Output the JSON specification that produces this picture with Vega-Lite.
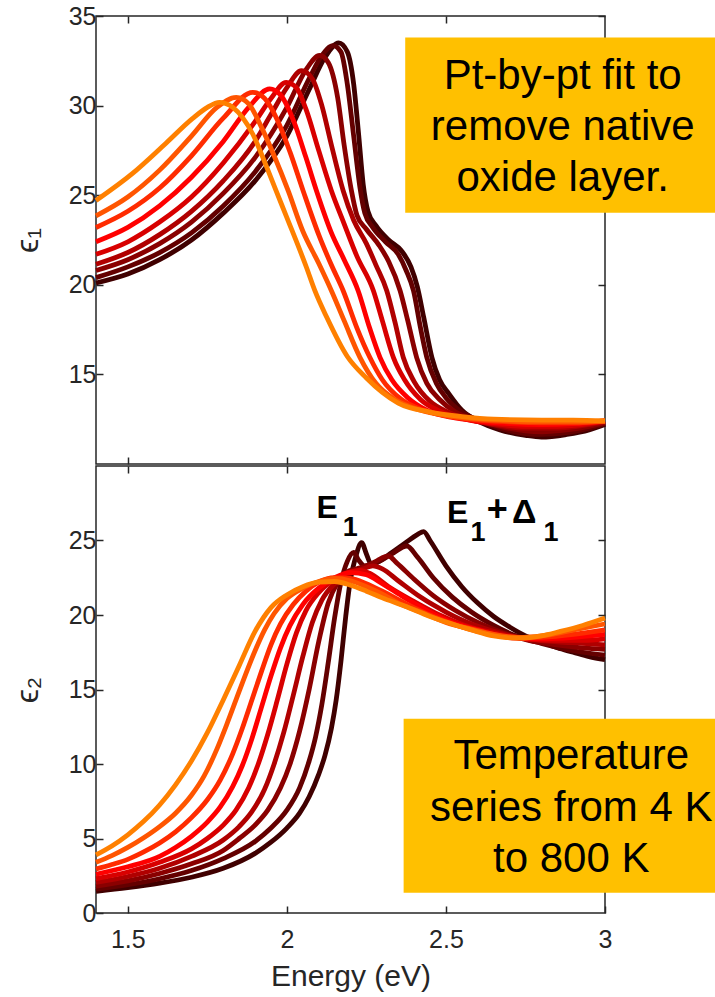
{
  "$schema": "https://vega.github.io/schema/vega-lite/v6.json",
  "background": "white",
  "padding": {"left": 10, "top": 3, "right": 0, "bottom": 0},
  "spacing": -6,
  "config": {
    "font": "Liberation Sans",
    "view": {"stroke": "#262626", "strokeWidth": 1.5},
    "axis": {"domain": false, "grid": false, "tickColor": "#262626", "tickWidth": 1.5, "tickSize": -7, "labelColor": "#262626", "labelFont": "Liberation Sans", "labelFontSize": 25, "titleColor": "#262626", "titleFont": "Liberation Sans", "titleFontWeight": "normal", "labelFlush": false, "labelOverlap": false}
  },
  "datasets": {
    "eps1": [
      {"curve":1,"E":1.4,"eps":20.1},{"curve":1,"E":1.5,"eps":20.6},{"curve":1,"E":1.6,"eps":21.4},{"curve":1,"E":1.7,"eps":22.5},{"curve":1,"E":1.8,"eps":24.0},{"curve":1,"E":1.9,"eps":25.8},{"curve":1,"E":2.0,"eps":28.3},{"curve":1,"E":2.07,"eps":30.9},{"curve":1,"E":2.12,"eps":32.7},{"curve":1,"E":2.163,"eps":33.5},{"curve":1,"E":2.19,"eps":33.0},{"curve":1,"E":2.21,"eps":31.2},{"curve":1,"E":2.225,"eps":28.5},{"curve":1,"E":2.24,"eps":25.6},{"curve":1,"E":2.255,"eps":24.1},{"curve":1,"E":2.28,"eps":23.3},{"curve":1,"E":2.32,"eps":22.5},{"curve":1,"E":2.36,"eps":21.9},{"curve":1,"E":2.39,"eps":21.0},{"curve":1,"E":2.41,"eps":19.9},{"curve":1,"E":2.43,"eps":18.2},{"curve":1,"E":2.456,"eps":15.94},{"curve":1,"E":2.48,"eps":14.7},{"curve":1,"E":2.51,"eps":13.9},{"curve":1,"E":2.55,"eps":13.0},{"curve":1,"E":2.6,"eps":12.4},{"curve":1,"E":2.67,"eps":11.9},{"curve":1,"E":2.75,"eps":11.6},{"curve":1,"E":2.8,"eps":11.5},{"curve":1,"E":2.88,"eps":11.65},{"curve":1,"E":2.95,"eps":11.9},{"curve":1,"E":3.0,"eps":12.2},
      {"curve":2,"E":1.4,"eps":20.4},{"curve":2,"E":1.5,"eps":21.0},{"curve":2,"E":1.6,"eps":21.8},{"curve":2,"E":1.7,"eps":22.9},{"curve":2,"E":1.8,"eps":24.4},{"curve":2,"E":1.9,"eps":26.3},{"curve":2,"E":2.0,"eps":28.9},{"curve":2,"E":2.07,"eps":31.5},{"curve":2,"E":2.11,"eps":32.8},{"curve":2,"E":2.145,"eps":33.35},{"curve":2,"E":2.17,"eps":33.0},{"curve":2,"E":2.19,"eps":31.2},{"curve":2,"E":2.21,"eps":28.3},{"curve":2,"E":2.23,"eps":25.4},{"curve":2,"E":2.245,"eps":24.0},{"curve":2,"E":2.27,"eps":23.2},{"curve":2,"E":2.31,"eps":22.4},{"curve":2,"E":2.35,"eps":21.7},{"curve":2,"E":2.375,"eps":20.8},{"curve":2,"E":2.398,"eps":19.67},{"curve":2,"E":2.42,"eps":17.6},{"curve":2,"E":2.44,"eps":15.94},{"curve":2,"E":2.47,"eps":14.5},{"curve":2,"E":2.5,"eps":13.7},{"curve":2,"E":2.55,"eps":12.9},{"curve":2,"E":2.6,"eps":12.45},{"curve":2,"E":2.67,"eps":12.0},{"curve":2,"E":2.75,"eps":11.7},{"curve":2,"E":2.8,"eps":11.65},{"curve":2,"E":2.88,"eps":11.75},{"curve":2,"E":2.95,"eps":12.0},{"curve":2,"E":3.0,"eps":12.25},
      {"curve":3,"E":1.4,"eps":20.8},{"curve":3,"E":1.5,"eps":21.4},{"curve":3,"E":1.6,"eps":22.3},{"curve":3,"E":1.7,"eps":23.5},{"curve":3,"E":1.8,"eps":25.1},{"curve":3,"E":1.9,"eps":27.1},{"curve":3,"E":2.0,"eps":29.9},{"curve":3,"E":2.06,"eps":32.0},{"curve":3,"E":2.103,"eps":32.8},{"curve":3,"E":2.13,"eps":32.4},{"curve":3,"E":2.16,"eps":30.4},{"curve":3,"E":2.18,"eps":27.8},{"curve":3,"E":2.203,"eps":25.25},{"curve":3,"E":2.22,"eps":23.9},{"curve":3,"E":2.25,"eps":23.1},{"curve":3,"E":2.29,"eps":22.2},{"curve":3,"E":2.32,"eps":21.3},{"curve":3,"E":2.356,"eps":19.67},{"curve":3,"E":2.38,"eps":18.0},{"curve":3,"E":2.408,"eps":15.94},{"curve":3,"E":2.44,"eps":14.5},{"curve":3,"E":2.48,"eps":13.6},{"curve":3,"E":2.53,"eps":12.9},{"curve":3,"E":2.6,"eps":12.45},{"curve":3,"E":2.67,"eps":12.1},{"curve":3,"E":2.75,"eps":11.85},{"curve":3,"E":2.8,"eps":11.8},{"curve":3,"E":2.88,"eps":11.9},{"curve":3,"E":2.95,"eps":12.1},{"curve":3,"E":3.0,"eps":12.3},
      {"curve":4,"E":1.4,"eps":21.15},{"curve":4,"E":1.5,"eps":21.8},{"curve":4,"E":1.6,"eps":22.8},{"curve":4,"E":1.7,"eps":24.1},{"curve":4,"E":1.8,"eps":25.8},{"curve":4,"E":1.9,"eps":28.0},{"curve":4,"E":1.95,"eps":29.5},{"curve":4,"E":2.0,"eps":31.0},{"curve":4,"E":2.046,"eps":31.95},{"curve":4,"E":2.08,"eps":31.5},{"curve":4,"E":2.11,"eps":30.0},{"curve":4,"E":2.14,"eps":27.8},{"curve":4,"E":2.177,"eps":25.25},{"curve":4,"E":2.21,"eps":23.6},{"curve":4,"E":2.25,"eps":22.3},{"curve":4,"E":2.28,"eps":21.1},{"curve":4,"E":2.314,"eps":19.67},{"curve":4,"E":2.34,"eps":17.9},{"curve":4,"E":2.366,"eps":15.94},{"curve":4,"E":2.4,"eps":14.6},{"curve":4,"E":2.45,"eps":13.5},{"curve":4,"E":2.5,"eps":12.95},{"curve":4,"E":2.57,"eps":12.5},{"curve":4,"E":2.65,"eps":12.2},{"curve":4,"E":2.75,"eps":12.0},{"curve":4,"E":2.85,"eps":12.0},{"curve":4,"E":2.95,"eps":12.2},{"curve":4,"E":3.0,"eps":12.35},
      {"curve":5,"E":1.4,"eps":21.7},{"curve":5,"E":1.5,"eps":22.4},{"curve":5,"E":1.6,"eps":23.5},{"curve":5,"E":1.7,"eps":24.9},{"curve":5,"E":1.8,"eps":26.8},{"curve":5,"E":1.9,"eps":29.1},{"curve":5,"E":1.95,"eps":30.4},{"curve":5,"E":1.998,"eps":31.3},{"curve":5,"E":2.03,"eps":31.0},{"curve":5,"E":2.06,"eps":29.8},{"curve":5,"E":2.1,"eps":27.5},{"curve":5,"E":2.14,"eps":25.25},{"curve":5,"E":2.18,"eps":23.4},{"curve":5,"E":2.22,"eps":21.6},{"curve":5,"E":2.272,"eps":19.67},{"curve":5,"E":2.3,"eps":18.0},{"curve":5,"E":2.335,"eps":15.94},{"curve":5,"E":2.37,"eps":14.7},{"curve":5,"E":2.42,"eps":13.6},{"curve":5,"E":2.48,"eps":12.95},{"curve":5,"E":2.55,"eps":12.55},{"curve":5,"E":2.65,"eps":12.25},{"curve":5,"E":2.75,"eps":12.1},{"curve":5,"E":2.85,"eps":12.1},{"curve":5,"E":2.95,"eps":12.25},{"curve":5,"E":3.0,"eps":12.4},
      {"curve":6,"E":1.4,"eps":22.4},{"curve":6,"E":1.5,"eps":23.2},{"curve":6,"E":1.6,"eps":24.4},{"curve":6,"E":1.7,"eps":26.0},{"curve":6,"E":1.8,"eps":28.0},{"curve":6,"E":1.88,"eps":29.9},{"curve":6,"E":1.946,"eps":30.93},{"curve":6,"E":1.98,"eps":30.6},{"curve":6,"E":2.02,"eps":29.2},{"curve":6,"E":2.06,"eps":27.1},{"curve":6,"E":2.093,"eps":25.25},{"curve":6,"E":2.14,"eps":22.9},{"curve":6,"E":2.18,"eps":21.4},{"curve":6,"E":2.224,"eps":19.67},{"curve":6,"E":2.26,"eps":17.6},{"curve":6,"E":2.293,"eps":15.94},{"curve":6,"E":2.33,"eps":14.7},{"curve":6,"E":2.38,"eps":13.7},{"curve":6,"E":2.44,"eps":13.0},{"curve":6,"E":2.52,"eps":12.6},{"curve":6,"E":2.6,"eps":12.4},{"curve":6,"E":2.7,"eps":12.25},{"curve":6,"E":2.8,"eps":12.2},{"curve":6,"E":2.9,"eps":12.25},{"curve":6,"E":3.0,"eps":12.4},
      {"curve":7,"E":1.4,"eps":23.2},{"curve":7,"E":1.5,"eps":24.1},{"curve":7,"E":1.6,"eps":25.4},{"curve":7,"E":1.7,"eps":27.2},{"curve":7,"E":1.8,"eps":29.3},{"curve":7,"E":1.893,"eps":30.74},{"curve":7,"E":1.93,"eps":30.4},{"curve":7,"E":1.97,"eps":29.2},{"curve":7,"E":2.01,"eps":27.4},{"curve":7,"E":2.051,"eps":25.25},{"curve":7,"E":2.1,"eps":22.8},{"curve":7,"E":2.14,"eps":21.1},{"curve":7,"E":2.177,"eps":19.67},{"curve":7,"E":2.22,"eps":17.6},{"curve":7,"E":2.261,"eps":15.94},{"curve":7,"E":2.3,"eps":14.7},{"curve":7,"E":2.36,"eps":13.6},{"curve":7,"E":2.43,"eps":13.0},{"curve":7,"E":2.5,"eps":12.7},{"curve":7,"E":2.6,"eps":12.45},{"curve":7,"E":2.7,"eps":12.35},{"curve":7,"E":2.8,"eps":12.3},{"curve":7,"E":2.9,"eps":12.3},{"curve":7,"E":3.0,"eps":12.4},
      {"curve":8,"E":1.4,"eps":23.85},{"curve":8,"E":1.5,"eps":24.9},{"curve":8,"E":1.6,"eps":26.4},{"curve":8,"E":1.7,"eps":28.3},{"curve":8,"E":1.78,"eps":29.9},{"curve":8,"E":1.841,"eps":30.46},{"curve":8,"E":1.88,"eps":30.1},{"curve":8,"E":1.92,"eps":28.8},{"curve":8,"E":1.96,"eps":27.2},{"curve":8,"E":2.004,"eps":25.25},{"curve":8,"E":2.05,"eps":23.0},{"curve":8,"E":2.1,"eps":21.2},{"curve":8,"E":2.14,"eps":19.67},{"curve":8,"E":2.18,"eps":18.0},{"curve":8,"E":2.23,"eps":15.94},{"curve":8,"E":2.28,"eps":14.5},{"curve":8,"E":2.34,"eps":13.6},{"curve":8,"E":2.42,"eps":13.0},{"curve":8,"E":2.5,"eps":12.7},{"curve":8,"E":2.6,"eps":12.5},{"curve":8,"E":2.7,"eps":12.4},{"curve":8,"E":2.8,"eps":12.35},{"curve":8,"E":2.9,"eps":12.35},{"curve":8,"E":3.0,"eps":12.4},
      {"curve":9,"E":1.4,"eps":24.7},{"curve":9,"E":1.514,"eps":26.2},{"curve":9,"E":1.62,"eps":27.9},{"curve":9,"E":1.703,"eps":29.27},{"curve":9,"E":1.75,"eps":29.9},{"curve":9,"E":1.788,"eps":30.18},{"curve":9,"E":1.83,"eps":29.9},{"curve":9,"E":1.893,"eps":28.4},{"curve":9,"E":1.937,"eps":26.55},{"curve":9,"E":1.966,"eps":25.25},{"curve":9,"E":2.0,"eps":23.75},{"curve":9,"E":2.062,"eps":20.95},{"curve":9,"E":2.088,"eps":19.67},{"curve":9,"E":2.125,"eps":18.2},{"curve":9,"E":2.19,"eps":16.0},{"curve":9,"E":2.25,"eps":14.8},{"curve":9,"E":2.3,"eps":14.0},{"curve":9,"E":2.35,"eps":13.4},{"curve":9,"E":2.45,"eps":12.9},{"curve":9,"E":2.55,"eps":12.65},{"curve":9,"E":2.65,"eps":12.5},{"curve":9,"E":2.8,"eps":12.45},{"curve":9,"E":2.9,"eps":12.45},{"curve":9,"E":3.0,"eps":12.4}
    ],
    "eps2": [
      {"curve":1,"E":1.4,"eps":1.45},{"curve":1,"E":1.5,"eps":1.7},{"curve":1,"E":1.6,"eps":2.0},{"curve":1,"E":1.7,"eps":2.4},{"curve":1,"E":1.8,"eps":3.0},{"curve":1,"E":1.9,"eps":4.0},{"curve":1,"E":1.95,"eps":4.75},{"curve":1,"E":2.0,"eps":5.7},{"curve":1,"E":2.04,"eps":6.7},{"curve":1,"E":2.07,"eps":7.8},{"curve":1,"E":2.1,"eps":9.3},{"curve":1,"E":2.12,"eps":10.6},{"curve":1,"E":2.14,"eps":12.4},{"curve":1,"E":2.155,"eps":14.3},{"curve":1,"E":2.17,"eps":16.9},{"curve":1,"E":2.185,"eps":19.9},{"curve":1,"E":2.2,"eps":22.4},{"curve":1,"E":2.215,"eps":23.8},{"curve":1,"E":2.235,"eps":24.85},{"curve":1,"E":2.25,"eps":24.1},{"curve":1,"E":2.265,"eps":23.4},{"curve":1,"E":2.29,"eps":23.6},{"curve":1,"E":2.33,"eps":24.2},{"curve":1,"E":2.37,"eps":24.8},{"curve":1,"E":2.41,"eps":25.4},{"curve":1,"E":2.43,"eps":25.6},{"curve":1,"E":2.45,"eps":25.0},{"curve":1,"E":2.5,"eps":23.3},{"curve":1,"E":2.55,"eps":21.9},{"curve":1,"E":2.6,"eps":20.8},{"curve":1,"E":2.65,"eps":19.9},{"curve":1,"E":2.7,"eps":19.2},{"curve":1,"E":2.75,"eps":18.6},{"curve":1,"E":2.8,"eps":18.2},{"curve":1,"E":2.85,"eps":17.8},{"curve":1,"E":2.9,"eps":17.5},{"curve":1,"E":2.95,"eps":17.2},{"curve":1,"E":3.0,"eps":17.0},
      {"curve":2,"E":1.4,"eps":1.6},{"curve":2,"E":1.5,"eps":1.9},{"curve":2,"E":1.6,"eps":2.3},{"curve":2,"E":1.7,"eps":2.85},{"curve":2,"E":1.8,"eps":3.65},{"curve":2,"E":1.9,"eps":4.8},{"curve":2,"E":1.95,"eps":5.7},{"curve":2,"E":2.0,"eps":6.9},{"curve":2,"E":2.04,"eps":8.4},{"curve":2,"E":2.07,"eps":10.2},{"curve":2,"E":2.09,"eps":11.8},{"curve":2,"E":2.11,"eps":14.0},{"curve":2,"E":2.13,"eps":16.8},{"curve":2,"E":2.15,"eps":19.8},{"curve":2,"E":2.17,"eps":22.2},{"curve":2,"E":2.19,"eps":23.6},{"curve":2,"E":2.21,"eps":24.2},{"curve":2,"E":2.225,"eps":23.7},{"curve":2,"E":2.245,"eps":23.3},{"curve":2,"E":2.28,"eps":23.5},{"curve":2,"E":2.33,"eps":24.1},{"curve":2,"E":2.377,"eps":24.63},{"curve":2,"E":2.41,"eps":23.9},{"curve":2,"E":2.46,"eps":22.5},{"curve":2,"E":2.52,"eps":21.2},{"curve":2,"E":2.58,"eps":20.2},{"curve":2,"E":2.65,"eps":19.3},{"curve":2,"E":2.72,"eps":18.6},{"curve":2,"E":2.8,"eps":18.1},{"curve":2,"E":2.9,"eps":17.6},{"curve":2,"E":3.0,"eps":17.3},
      {"curve":3,"E":1.4,"eps":1.8},{"curve":3,"E":1.5,"eps":2.15},{"curve":3,"E":1.6,"eps":2.65},{"curve":3,"E":1.7,"eps":3.3},{"curve":3,"E":1.8,"eps":4.2},{"curve":3,"E":1.85,"eps":5.0},{"curve":3,"E":1.9,"eps":5.9},{"curve":3,"E":1.94,"eps":6.9},{"curve":3,"E":1.98,"eps":8.4},{"curve":3,"E":2.01,"eps":10.0},{"curve":3,"E":2.04,"eps":12.2},{"curve":3,"E":2.07,"eps":15.0},{"curve":3,"E":2.1,"eps":18.2},{"curve":3,"E":2.13,"eps":20.8},{"curve":3,"E":2.16,"eps":22.2},{"curve":3,"E":2.19,"eps":22.9},{"curve":3,"E":2.22,"eps":23.1},{"curve":3,"E":2.25,"eps":23.3},{"curve":3,"E":2.28,"eps":23.6},{"curve":3,"E":2.3,"eps":23.85},{"curve":3,"E":2.319,"eps":23.96},{"curve":3,"E":2.345,"eps":23.5},{"curve":3,"E":2.4,"eps":22.4},{"curve":3,"E":2.46,"eps":21.3},{"curve":3,"E":2.53,"eps":20.3},{"curve":3,"E":2.6,"eps":19.5},{"curve":3,"E":2.68,"eps":18.8},{"curve":3,"E":2.76,"eps":18.3},{"curve":3,"E":2.85,"eps":18.0},{"curve":3,"E":2.93,"eps":17.8},{"curve":3,"E":3.0,"eps":17.7},
      {"curve":4,"E":1.4,"eps":2.05},{"curve":4,"E":1.5,"eps":2.45},{"curve":4,"E":1.6,"eps":3.0},{"curve":4,"E":1.7,"eps":3.8},{"curve":4,"E":1.8,"eps":4.9},{"curve":4,"E":1.85,"eps":5.8},{"curve":4,"E":1.89,"eps":6.8},{"curve":4,"E":1.93,"eps":8.3},{"curve":4,"E":1.96,"eps":10.0},{"curve":4,"E":1.99,"eps":12.1},{"curve":4,"E":2.02,"eps":14.6},{"curve":4,"E":2.05,"eps":17.2},{"curve":4,"E":2.08,"eps":19.5},{"curve":4,"E":2.11,"eps":21.0},{"curve":4,"E":2.15,"eps":22.1},{"curve":4,"E":2.2,"eps":22.8},{"curve":4,"E":2.24,"eps":23.1},{"curve":4,"E":2.27,"eps":23.3},{"curve":4,"E":2.3,"eps":23.1},{"curve":4,"E":2.35,"eps":22.3},{"curve":4,"E":2.42,"eps":21.2},{"curve":4,"E":2.5,"eps":20.2},{"curve":4,"E":2.58,"eps":19.4},{"curve":4,"E":2.66,"eps":18.85},{"curve":4,"E":2.75,"eps":18.4},{"curve":4,"E":2.85,"eps":18.2},{"curve":4,"E":2.93,"eps":18.1},{"curve":4,"E":3.0,"eps":18.0},
      {"curve":5,"E":1.4,"eps":2.3},{"curve":5,"E":1.5,"eps":2.75},{"curve":5,"E":1.6,"eps":3.4},{"curve":5,"E":1.7,"eps":4.3},{"curve":5,"E":1.75,"eps":5.0},{"curve":5,"E":1.8,"eps":5.9},{"curve":5,"E":1.84,"eps":6.9},{"curve":5,"E":1.88,"eps":8.4},{"curve":5,"E":1.91,"eps":10.0},{"curve":5,"E":1.94,"eps":12.0},{"curve":5,"E":1.97,"eps":14.3},{"curve":5,"E":2.0,"eps":16.7},{"curve":5,"E":2.03,"eps":18.8},{"curve":5,"E":2.06,"eps":20.3},{"curve":5,"E":2.1,"eps":21.5},{"curve":5,"E":2.15,"eps":22.4},{"curve":5,"E":2.2,"eps":22.9},{"curve":5,"E":2.23,"eps":23.0},{"curve":5,"E":2.26,"eps":22.8},{"curve":5,"E":2.32,"eps":21.9},{"curve":5,"E":2.4,"eps":20.9},{"curve":5,"E":2.48,"eps":20.0},{"curve":5,"E":2.56,"eps":19.3},{"curve":5,"E":2.65,"eps":18.8},{"curve":5,"E":2.75,"eps":18.4},{"curve":5,"E":2.85,"eps":18.3},{"curve":5,"E":2.93,"eps":18.3},{"curve":5,"E":3.0,"eps":18.4},
      {"curve":6,"E":1.4,"eps":2.6},{"curve":6,"E":1.5,"eps":3.1},{"curve":6,"E":1.6,"eps":3.8},{"curve":6,"E":1.65,"eps":4.4},{"curve":6,"E":1.7,"eps":5.15},{"curve":6,"E":1.75,"eps":6.1},{"curve":6,"E":1.79,"eps":7.1},{"curve":6,"E":1.83,"eps":8.5},{"curve":6,"E":1.86,"eps":9.9},{"curve":6,"E":1.89,"eps":11.7},{"curve":6,"E":1.92,"eps":13.8},{"curve":6,"E":1.95,"eps":15.9},{"curve":6,"E":1.98,"eps":17.8},{"curve":6,"E":2.01,"eps":19.3},{"curve":6,"E":2.05,"eps":20.7},{"curve":6,"E":2.1,"eps":21.8},{"curve":6,"E":2.15,"eps":22.5},{"curve":6,"E":2.2,"eps":22.85},{"curve":6,"E":2.25,"eps":22.7},{"curve":6,"E":2.3,"eps":22.1},{"curve":6,"E":2.36,"eps":21.3},{"curve":6,"E":2.44,"eps":20.3},{"curve":6,"E":2.52,"eps":19.5},{"curve":6,"E":2.6,"eps":19.0},{"curve":6,"E":2.7,"eps":18.5},{"curve":6,"E":2.8,"eps":18.4},{"curve":6,"E":2.9,"eps":18.5},{"curve":6,"E":3.0,"eps":18.7},
      {"curve":7,"E":1.4,"eps":2.95},{"curve":7,"E":1.45,"eps":3.25},{"curve":7,"E":1.5,"eps":3.6},{"curve":7,"E":1.55,"eps":4.1},{"curve":7,"E":1.6,"eps":4.7},{"curve":7,"E":1.65,"eps":5.45},{"curve":7,"E":1.7,"eps":6.4},{"curve":7,"E":1.75,"eps":7.6},{"curve":7,"E":1.79,"eps":8.9},{"curve":7,"E":1.83,"eps":10.7},{"curve":7,"E":1.86,"eps":12.4},{"curve":7,"E":1.89,"eps":14.3},{"curve":7,"E":1.92,"eps":16.2},{"curve":7,"E":1.95,"eps":18.0},{"curve":7,"E":1.98,"eps":19.4},{"curve":7,"E":2.02,"eps":20.7},{"curve":7,"E":2.06,"eps":21.6},{"curve":7,"E":2.1,"eps":22.2},{"curve":7,"E":2.15,"eps":22.5},{"curve":7,"E":2.2,"eps":22.45},{"curve":7,"E":2.25,"eps":22.1},{"curve":7,"E":2.3,"eps":21.6},{"curve":7,"E":2.38,"eps":20.7},{"curve":7,"E":2.46,"eps":19.9},{"curve":7,"E":2.55,"eps":19.2},{"curve":7,"E":2.63,"eps":18.75},{"curve":7,"E":2.72,"eps":18.45},{"curve":7,"E":2.8,"eps":18.5},{"curve":7,"E":2.9,"eps":18.7},{"curve":7,"E":3.0,"eps":19.0},
      {"curve":8,"E":1.4,"eps":3.4},{"curve":8,"E":1.45,"eps":3.85},{"curve":8,"E":1.5,"eps":4.4},{"curve":8,"E":1.55,"eps":5.05},{"curve":8,"E":1.6,"eps":5.8},{"curve":8,"E":1.65,"eps":6.7},{"curve":8,"E":1.7,"eps":7.9},{"curve":8,"E":1.74,"eps":9.2},{"curve":8,"E":1.78,"eps":11.0},{"curve":8,"E":1.81,"eps":12.6},{"curve":8,"E":1.84,"eps":14.3},{"curve":8,"E":1.87,"eps":16.0},{"curve":8,"E":1.9,"eps":17.6},{"curve":8,"E":1.93,"eps":19.0},{"curve":8,"E":1.96,"eps":20.1},{"curve":8,"E":2.0,"eps":21.1},{"curve":8,"E":2.05,"eps":21.8},{"curve":8,"E":2.1,"eps":22.25},{"curve":8,"E":2.15,"eps":22.45},{"curve":8,"E":2.2,"eps":22.3},{"curve":8,"E":2.25,"eps":21.9},{"curve":8,"E":2.3,"eps":21.4},{"curve":8,"E":2.35,"eps":20.8},{"curve":8,"E":2.42,"eps":20.2},{"curve":8,"E":2.5,"eps":19.5},{"curve":8,"E":2.58,"eps":19.05},{"curve":8,"E":2.65,"eps":18.7},{"curve":8,"E":2.73,"eps":18.5},{"curve":8,"E":2.8,"eps":18.6},{"curve":8,"E":2.88,"eps":18.9},{"curve":8,"E":2.95,"eps":19.2},{"curve":8,"E":3.0,"eps":19.4},
      {"curve":9,"E":1.4,"eps":3.9},{"curve":9,"E":1.45,"eps":4.5},{"curve":9,"E":1.5,"eps":5.25},{"curve":9,"E":1.55,"eps":6.15},{"curve":9,"E":1.6,"eps":7.25},{"curve":9,"E":1.65,"eps":8.6},{"curve":9,"E":1.7,"eps":10.2},{"curve":9,"E":1.75,"eps":12.1},{"curve":9,"E":1.8,"eps":14.3},{"curve":9,"E":1.85,"eps":16.6},{"curve":9,"E":1.9,"eps":18.9},{"curve":9,"E":1.95,"eps":20.5},{"curve":9,"E":2.0,"eps":21.35},{"curve":9,"E":2.05,"eps":21.9},{"curve":9,"E":2.1,"eps":22.2},{"curve":9,"E":2.15,"eps":22.25},{"curve":9,"E":2.2,"eps":22.0},{"curve":9,"E":2.25,"eps":21.6},{"curve":9,"E":2.3,"eps":21.15},{"curve":9,"E":2.37,"eps":20.6},{"curve":9,"E":2.45,"eps":19.9},{"curve":9,"E":2.52,"eps":19.4},{"curve":9,"E":2.58,"eps":19.0},{"curve":9,"E":2.65,"eps":18.6},{"curve":9,"E":2.73,"eps":18.45},{"curve":9,"E":2.8,"eps":18.6},{"curve":9,"E":2.86,"eps":18.9},{"curve":9,"E":2.93,"eps":19.3},{"curve":9,"E":3.0,"eps":19.8}
    ],
    "box1": [{"x1": 2.372, "x2": 3.36, "y1": 24.02, "y2": 33.8}],
    "box1text": [
      {"E": 2.867, "eps": 30.93, "text": "Pt-by-pt fit to"},
      {"E": 2.867, "eps": 28.08, "text": "remove native"},
      {"E": 2.867, "eps": 25.25, "text": "oxide layer."}
    ],
    "box2": [{"x1": 2.367, "x2": 3.36, "y1": 1.36, "y2": 13.04}],
    "box2text": [
      {"E": 2.894, "eps": 9.65, "text": "Temperature"},
      {"E": 2.894, "eps": 6.19, "text": "series from 4 K"},
      {"E": 2.894, "eps": 2.77, "text": "to 800 K"}
    ],
    "peakMain": [
      {"E": 2.093, "eps": 26.53, "text": "E"},
      {"E": 2.503, "eps": 26.19, "text": "E"}
    ],
    "peakPlus": [
      {"E": 2.628, "eps": 26.3, "text": "+"}
    ],
    "peakDelta": [
      {"E": 2.708, "eps": 26.19, "text": "Δ"}
    ],
    "peakSub": [
      {"E": 2.176, "eps": 25.32, "text": "1"},
      {"E": 2.577, "eps": 24.99, "text": "1"},
      {"E": 2.807, "eps": 24.99, "text": "1"}
    ]
  },
  "vconcat": [
    {
      "width": 509,
      "height": 448,
      "resolve": {"axis": {"x": "independent", "y": "independent"}},
      "layer": [
        {
          "data": {"name": "eps1"},
          "mark": {"type": "line", "strokeWidth": 4.8, "interpolate": "monotone"},
          "encoding": {
            "x": {"field": "E", "type": "quantitative", "scale": {"domain": [1.4, 3], "nice": false, "zero": false}, "axis": {"orient": "bottom", "values": [1.5, 2, 2.5], "labels": false, "title": null}},
            "y": {"field": "eps", "type": "quantitative", "scale": {"domain": [10, 35], "nice": false, "zero": false}, "axis": {"orient": "left", "values": [15, 20, 25, 30, 35], "title": "ϵ₁", "titleFontSize": 32, "labelPadding": 7, "titlePadding": 24}},
            "color": {"field": "curve", "type": "ordinal", "scale": {"domain": [1, 2, 3, 4, 5, 6, 7, 8, 9], "range": ["#400000", "#640000", "#8A0000", "#B00000", "#D80000", "#FF0000", "#FF2B00", "#FF5500", "#FF8000"]}, "legend": null}
          }
        },
        {
          "data": {"name": "box1"},
          "mark": {"type": "rect", "color": "#FFC000"},
          "encoding": {
            "x": {"field": "x1", "type": "quantitative", "scale": {"domain": [1.4, 3], "nice": false, "zero": false}, "axis": {"orient": "top", "values": [1.5, 2, 2.5], "labels": false, "title": null}},
            "x2": {"field": "x2"},
            "y": {"field": "y1", "type": "quantitative", "scale": {"domain": [10, 35], "nice": false, "zero": false}, "axis": {"orient": "right", "values": [15, 20, 25, 30, 35], "labels": false, "title": null}},
            "y2": {"field": "y2"}
          }
        },
        {
          "data": {"name": "box1text"},
          "mark": {"type": "text", "fontSize": 42, "font": "Liberation Sans", "color": "#000000", "align": "center", "baseline": "alphabetic"},
          "encoding": {
            "x": {"field": "E", "type": "quantitative", "axis": null},
            "y": {"field": "eps", "type": "quantitative", "axis": null},
            "text": {"field": "text"}
          }
        }
      ]
    },
    {
      "width": 509,
      "height": 447,
      "resolve": {"axis": {"x": "independent", "y": "independent"}},
      "layer": [
        {
          "data": {"name": "eps2"},
          "mark": {"type": "line", "strokeWidth": 4.8, "interpolate": "monotone"},
          "encoding": {
            "x": {"field": "E", "type": "quantitative", "scale": {"domain": [1.4, 3], "nice": false, "zero": false}, "axis": {"orient": "bottom", "values": [1.5, 2, 2.5, 3], "format": "~g", "title": "Energy (eV)", "titleFontSize": 30, "labelPadding": 21, "titlePadding": 9}},
            "y": {"field": "eps", "type": "quantitative", "scale": {"domain": [0, 30], "nice": false, "zero": false}, "axis": {"orient": "left", "values": [0, 5, 10, 15, 20, 25], "title": "ϵ₂", "titleFontSize": 32, "labelPadding": 7, "titlePadding": 24}},
            "color": {"field": "curve", "type": "ordinal", "scale": {"domain": [1, 2, 3, 4, 5, 6, 7, 8, 9], "range": ["#400000", "#640000", "#8A0000", "#B00000", "#D80000", "#FF0000", "#FF2B00", "#FF5500", "#FF8000"]}, "legend": null}
          }
        },
        {
          "data": {"name": "box2"},
          "mark": {"type": "rect", "color": "#FFC000"},
          "encoding": {
            "x": {"field": "x1", "type": "quantitative", "scale": {"domain": [1.4, 3], "nice": false, "zero": false}, "axis": {"orient": "top", "values": [1.5, 2, 2.5], "labels": false, "title": null}},
            "x2": {"field": "x2"},
            "y": {"field": "y1", "type": "quantitative", "scale": {"domain": [0, 30], "nice": false, "zero": false}, "axis": {"orient": "right", "values": [5, 10, 15, 20, 25], "labels": false, "title": null}},
            "y2": {"field": "y2"}
          }
        },
        {
          "data": {"name": "box2text"},
          "mark": {"type": "text", "fontSize": 42, "font": "Liberation Sans", "color": "#000000", "align": "center", "baseline": "alphabetic"},
          "encoding": {
            "x": {"field": "E", "type": "quantitative", "axis": null},
            "y": {"field": "eps", "type": "quantitative", "axis": null},
            "text": {"field": "text"}
          }
        },
        {
          "data": {"name": "peakMain"},
          "mark": {"type": "text", "fontSize": 32, "fontWeight": "bold", "font": "Liberation Sans", "color": "#000000", "align": "left", "baseline": "alphabetic"},
          "encoding": {
            "x": {"field": "E", "type": "quantitative", "axis": null},
            "y": {"field": "eps", "type": "quantitative", "axis": null},
            "text": {"field": "text"}
          }
        },
        {
          "data": {"name": "peakPlus"},
          "mark": {"type": "text", "fontSize": 36, "fontWeight": "bold", "font": "Liberation Sans", "color": "#000000", "align": "left", "baseline": "alphabetic"},
          "encoding": {
            "x": {"field": "E", "type": "quantitative", "axis": null},
            "y": {"field": "eps", "type": "quantitative", "axis": null},
            "text": {"field": "text"}
          }
        },
        {
          "data": {"name": "peakDelta"},
          "mark": {"type": "text", "fontSize": 34, "fontWeight": "bold", "font": "Liberation Sans", "color": "#000000", "align": "left", "baseline": "alphabetic"},
          "encoding": {
            "x": {"field": "E", "type": "quantitative", "axis": null},
            "y": {"field": "eps", "type": "quantitative", "axis": null},
            "text": {"field": "text"}
          }
        },
        {
          "data": {"name": "peakSub"},
          "mark": {"type": "text", "fontSize": 27, "fontWeight": "bold", "font": "Liberation Sans", "color": "#000000", "align": "left", "baseline": "alphabetic"},
          "encoding": {
            "x": {"field": "E", "type": "quantitative", "axis": null},
            "y": {"field": "eps", "type": "quantitative", "axis": null},
            "text": {"field": "text"}
          }
        }
      ]
    }
  ]
}
